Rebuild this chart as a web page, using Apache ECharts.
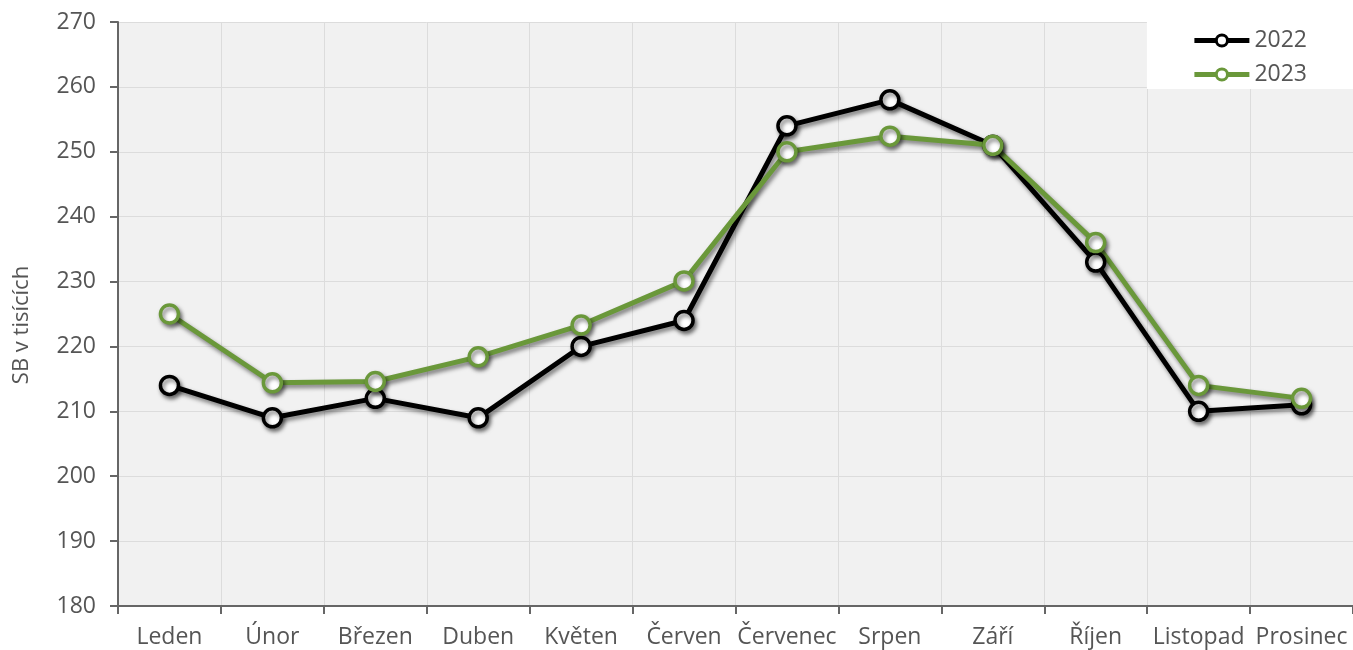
<!DOCTYPE html>
<html>
<head>
<meta charset="utf-8">
<script src="https://cdn.jsdelivr.net/npm/echarts@6/dist/echarts.min.js"></script>
<style>
  html, body { margin: 0; padding: 0; background: #fff; }
  #myChart { width: 1353px; height: 650px; }
</style>
</head>
<body>
<div id="myChart"></div>
<script>
const months = ['Leden', 'Únor', 'Březen', 'Duben', 'Květen', 'Červen', 'Červenec', 'Srpen', 'Září', 'Říjen', 'Listopad', 'Prosinec']
const values2022 = [214, 209, 212, 209, 220, 224, 254, 258, 251, 233, 210, 211]
const values2023 = [225, 214.4, 214.6, 218.4, 223.3, 230.1, 250, 252.4, 251, 236, 214, 212]
const yTicks = [180, 270, 10] // min, max, interval

const textColor = '#555'
const fontFamily = 'Open Sans'

function lineSeries (name, color, data) {
  return {
    name: name,
    type: 'line',
    data: data,
    symbol: 'circle',
    symbolSize: 18,
    lineStyle: {
      color: color,
      width: 5,
      shadowColor: 'rgba(0,0,0,0.5)',
      shadowBlur: 4,
      shadowOffsetX: 2,
      shadowOffsetY: 3
    },
    itemStyle: {
      color: '#fff',
      borderColor: color,
      borderWidth: 3.5,
      shadowColor: 'rgba(0,0,0,0.5)',
      shadowBlur: 4,
      shadowOffsetX: 2,
      shadowOffsetY: 3
    },
    emphasis: { disabled: true },
    animation: false
  }
}

let myChart = echarts.init(document.getElementById('myChart'))
myChart.setOption({
  textStyle: { fontFamily: fontFamily },
  grid: {
    left: 118,
    right: 0,
    top: 22,
    bottom: 44,
    show: true,
    backgroundColor: '#f1f1f1',
    borderWidth: 0
  },
  legend: {
    right: 0,
    top: 22,
    orient: 'vertical',
    backgroundColor: '#fff',
    padding: [7, 46, 3, 45],
    itemGap: 11,
    itemWidth: 55,
    itemHeight: 14,
    lineStyle: { width: 5 },
    itemStyle: { borderWidth: 3 },
    textStyle: { color: textColor, fontSize: 23, fontFamily: fontFamily },
    data: ['2022', '2023']
  },
  xAxis: {
    type: 'category',
    data: months,
    boundaryGap: true,
    axisLine: { lineStyle: { color: '#666', width: 2 } },
    axisTick: { show: true, length: 8, lineStyle: { color: '#666', width: 2 } },
    axisLabel: { color: textColor, fontSize: 23, margin: 20, interval: 0 },
    splitLine: { show: true, lineStyle: { color: '#dcdcdc', width: 1 } }
  },
  yAxis: {
    type: 'value',
    min: yTicks[0],
    max: yTicks[1],
    interval: yTicks[2],
    name: 'SB v tisících',
    nameLocation: 'middle',
    nameGap: 85,
    nameTextStyle: { color: textColor, fontSize: 22, padding: [0, 22, 0, 0] },
    axisLine: { show: true, lineStyle: { color: '#666', width: 2 } },
    axisTick: { show: true, length: 8, lineStyle: { color: '#666', width: 2 } },
    axisLabel: { color: textColor, fontSize: 23, margin: 22 },
    splitLine: { show: true, lineStyle: { color: '#dcdcdc', width: 1 } }
  },
  series: [
    lineSeries('2022', '#000000', values2022),
    lineSeries('2023', '#6a983a', values2023)
  ]
})
</script>
</body>
</html>
